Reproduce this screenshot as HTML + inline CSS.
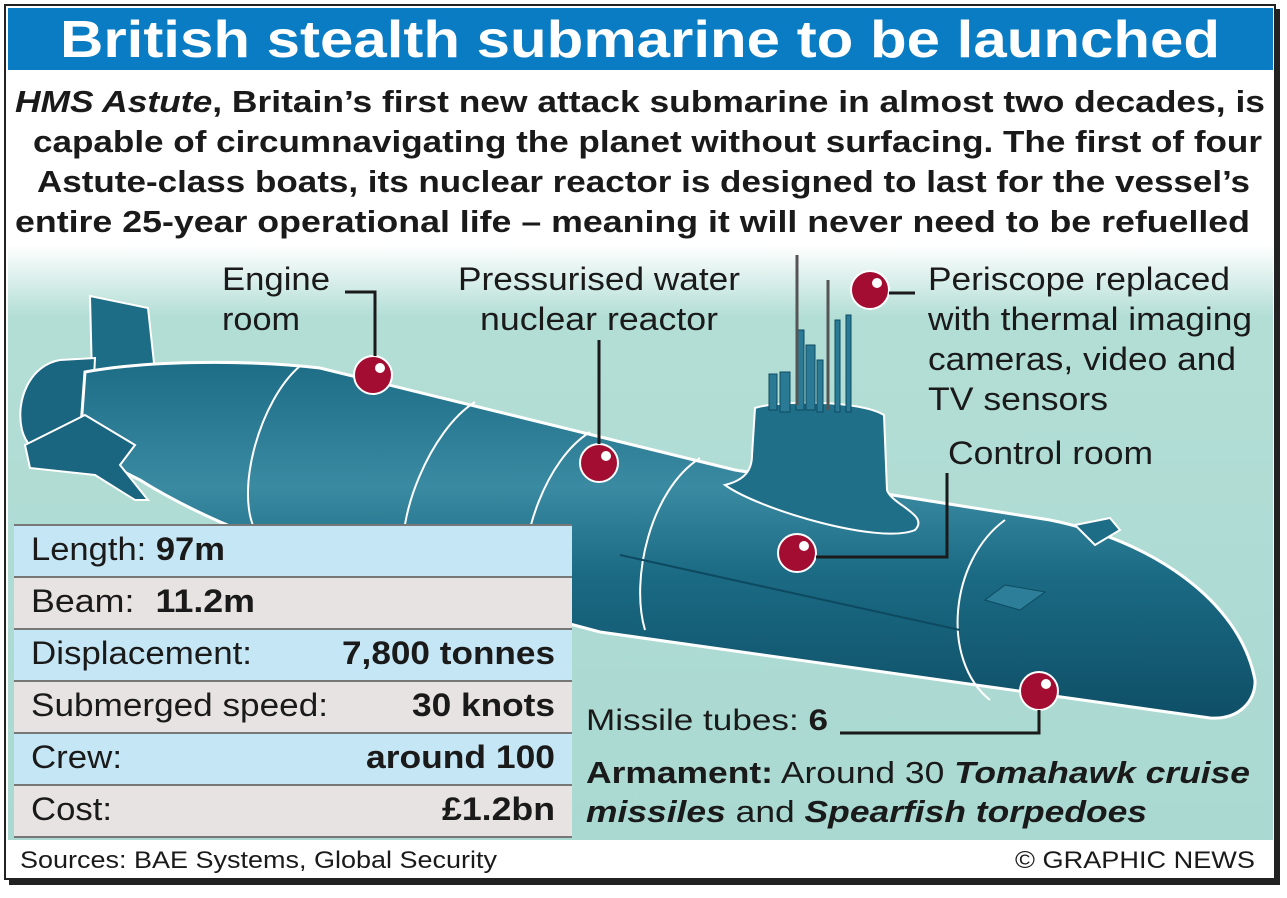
<!DOCTYPE html>
<html><head><meta charset="utf-8"><style>
body{margin:0;width:1287px;height:898px;background:#fff;overflow:hidden;font-family:"Liberation Sans",Arial,sans-serif;}
svg text{font-family:"Liberation Sans",Arial,sans-serif;fill:#1a1a1a}
</style></head><body>
<svg style="position:absolute;left:0;top:0" width="1287" height="898" viewBox="0 0 1287 898">
<defs>
<linearGradient id="bg" x1="0" y1="0" x2="0" y2="1"><stop offset="0" stop-color="#fff"/><stop offset="0.12" stop-color="#b3ded6"/><stop offset="1" stop-color="#a9d9d1"/></linearGradient>
<linearGradient id="hull" x1="0" y1="0" x2="0" y2="1"><stop offset="0" stop-color="#1d6d87"/><stop offset="0.35" stop-color="#3a8aa2"/><stop offset="0.6" stop-color="#1b6a84"/><stop offset="1" stop-color="#0e4f66"/></linearGradient>
</defs>
<rect x="9" y="9" width="1271" height="876" fill="#222"/>
<rect x="5" y="5" width="1270" height="874" fill="#fff" stroke="#222" stroke-width="2"/>
<rect x="8" y="8" width="1265" height="62" fill="#0a7cc3"/>
<text x="60" y="57" textLength="1160" lengthAdjust="spacingAndGlyphs" font-size="52" font-weight="bold" style="fill:#fff">British stealth submarine to be launched</text>
<g font-size="31" font-weight="bold">
<text x="15" y="112" textLength="1250" lengthAdjust="spacingAndGlyphs"><tspan font-style="italic">HMS Astute</tspan>, Britain’s first new attack submarine in almost two decades, is</text>
<text x="33" y="152" textLength="1229" lengthAdjust="spacingAndGlyphs">capable of circumnavigating the planet without surfacing. The first of four</text>
<text x="37" y="192" textLength="1213" lengthAdjust="spacingAndGlyphs">Astute-class boats, its nuclear reactor is designed to last for the vessel’s</text>
<text x="15" y="232" textLength="1235" lengthAdjust="spacingAndGlyphs">entire 25-year operational life – meaning it will never need to be refuelled</text>
</g>
<rect x="8" y="245" width="1265" height="595" fill="url(#bg)"/>
<!-- upper fin -->
<path d="M90 296 L148 308 L155 372 L92 378 Z" fill="#1d6d87" stroke="#fff" stroke-width="2"/>
<!-- stern shroud -->
<path d="M60 360 C30 365 15 400 22 430 C30 460 60 460 90 455 L95 358 Z" fill="#1a6580" stroke="#fff" stroke-width="2"/>
<!-- hull -->
<path d="M85 372 C150 360 250 360 320 368 L735 470 L1050 520 C1150 540 1240 600 1255 680 C1256 700 1240 720 1210 718 L600 632 L330 560 C250 540 180 505 140 480 C110 465 90 455 80 440 Z" fill="url(#hull)" stroke="#fff" stroke-width="3"/>
<!-- lower fin -->
<path d="M25 445 L85 415 L135 445 L120 465 L148 500 L135 500 L95 475 L30 468 Z" fill="#1a6580" stroke="#fff" stroke-width="2"/>
<path d="M1075 525 L1110 518 L1120 530 L1095 545 Z" fill="#1d6d87" stroke="#fff" stroke-width="2"/>
<path d="M300 366 C260 400 235 490 255 530" fill="none" stroke="#fff" stroke-width="2"/>
<path d="M475 402 C430 430 395 520 405 560" fill="none" stroke="#fff" stroke-width="2"/>
<path d="M590 432 C545 460 520 540 525 580" fill="none" stroke="#fff" stroke-width="2"/>
<path d="M700 458 C650 490 630 580 645 630" fill="none" stroke="#fff" stroke-width="2"/>
<path d="M1005 520 C950 560 940 660 990 700" fill="none" stroke="#fff" stroke-width="2"/>
<path d="M620 555 L960 630" stroke="#0d4a60" stroke-width="2"/>
<path d="M985 600 L1005 585 L1045 592 L1020 610 Z" fill="#2d7f99" stroke="#0d4a60"/>
<path d="M755 408 C780 400 860 400 884 415 L887 490 C892 505 930 515 915 530 C880 545 760 510 725 485 C745 480 752 470 752 455 Z" fill="#1f6f89" stroke="#fff" stroke-width="2"/>
<g fill="#2a7a95" stroke="#0d4a60">
<rect x="769" y="374" width="8" height="36"/><rect x="780" y="372" width="10" height="40"/>
<rect x="796" y="330" width="8" height="80"/><rect x="806" y="345" width="9" height="65"/>
<rect x="817" y="360" width="6" height="52"/><rect x="835" y="320" width="5" height="92"/><rect x="846" y="315" width="5" height="97"/>
</g>
<path d="M797 255 V405 M828 280 V410" stroke="#555" stroke-width="3"/>
<g stroke="#fff" stroke-width="2" fill="#a40d32">
<circle cx="373" cy="375" r="19"/><circle cx="599" cy="463" r="19"/><circle cx="870" cy="290" r="19"/><circle cx="797" cy="553" r="19"/><circle cx="1039" cy="691" r="19"/>
</g>
<g fill="#fff"><circle cx="380" cy="368" r="5"/><circle cx="606" cy="456" r="5"/><circle cx="877" cy="283" r="5"/><circle cx="804" cy="546" r="5"/><circle cx="1046" cy="684" r="5"/></g>
<g fill="none" stroke="#1a1a1a" stroke-width="3">
<path d="M345 292 H375 V356"/><path d="M599 340 V444"/><path d="M889 293 H915"/><path d="M816 557 H947 V473"/><path d="M1039 710 V733 H840"/>
</g>
<rect x="14" y="525" width="558" height="52" fill="#c5e6f4"/><rect x="14" y="577" width="558" height="52" fill="#e7e3e3"/>
<rect x="14" y="629" width="558" height="52" fill="#c5e6f4"/><rect x="14" y="681" width="558" height="52" fill="#e7e3e3"/>
<rect x="14" y="733" width="558" height="52" fill="#c5e6f4"/><rect x="14" y="785" width="558" height="52" fill="#e7e3e3"/>
<g stroke="#777" stroke-width="2"><path d="M14 525H572M14 577H572M14 629H572M14 681H572M14 733H572M14 785H572M14 837H572"/></g>
<rect x="8" y="840" width="1265" height="38" fill="#fff"/>
<g font-size="32">
<text x="222" y="290" textLength="108" lengthAdjust="spacingAndGlyphs">Engine</text>
<text x="222" y="330" textLength="78" lengthAdjust="spacingAndGlyphs">room</text>
<text x="458" y="290" textLength="282" lengthAdjust="spacingAndGlyphs">Pressurised water</text>
<text x="480" y="330" textLength="238" lengthAdjust="spacingAndGlyphs">nuclear reactor</text>
<text x="928" y="290" textLength="302" lengthAdjust="spacingAndGlyphs">Periscope replaced</text>
<text x="928" y="330" textLength="324" lengthAdjust="spacingAndGlyphs">with thermal imaging</text>
<text x="928" y="370" textLength="308" lengthAdjust="spacingAndGlyphs">cameras, video and</text>
<text x="928" y="410" textLength="180" lengthAdjust="spacingAndGlyphs">TV sensors</text>
<text x="948" y="464" textLength="205" lengthAdjust="spacingAndGlyphs">Control room</text>
<text x="31" y="560" textLength="194" lengthAdjust="spacingAndGlyphs">Length: <tspan font-weight="bold">97m</tspan></text>
<text x="31" y="612" textLength="224" lengthAdjust="spacingAndGlyphs">Beam:  <tspan font-weight="bold" dx="10">11.2m</tspan></text>
<text x="31" y="664" textLength="221" lengthAdjust="spacingAndGlyphs">Displacement:</text>
<text x="342" y="664" textLength="213" lengthAdjust="spacingAndGlyphs" font-weight="bold">7,800 tonnes</text>
<text x="31" y="716" textLength="297" lengthAdjust="spacingAndGlyphs">Submerged speed:</text>
<text x="412" y="716" textLength="143" lengthAdjust="spacingAndGlyphs" font-weight="bold">30 knots</text>
<text x="31" y="768" textLength="91" lengthAdjust="spacingAndGlyphs">Crew:</text>
<text x="366" y="768" textLength="189" lengthAdjust="spacingAndGlyphs" font-weight="bold">around 100</text>
<text x="31" y="820" textLength="81" lengthAdjust="spacingAndGlyphs">Cost:</text>
<text x="442" y="820" textLength="113" lengthAdjust="spacingAndGlyphs" font-weight="bold">£1.2bn</text>
<text x="586" y="730" textLength="242" lengthAdjust="spacingAndGlyphs" font-size="30">Missile tubes: <tspan font-weight="bold">6</tspan></text>
<text x="586" y="783" textLength="664" lengthAdjust="spacingAndGlyphs" font-size="31"><tspan font-weight="bold">Armament:</tspan> Around 30 <tspan font-weight="bold" font-style="italic">Tomahawk cruise</tspan></text>
<text x="586" y="822" textLength="561" lengthAdjust="spacingAndGlyphs" font-size="31"><tspan font-weight="bold" font-style="italic">missiles</tspan> and <tspan font-weight="bold" font-style="italic">Spearfish torpedoes</tspan></text>
<text x="20" y="868" textLength="477" lengthAdjust="spacingAndGlyphs" font-size="24">Sources: BAE Systems, Global Security</text>
<text x="1015" y="868" textLength="240" lengthAdjust="spacingAndGlyphs" font-size="24">© GRAPHIC NEWS</text>
</g>
</svg>
</body></html>
